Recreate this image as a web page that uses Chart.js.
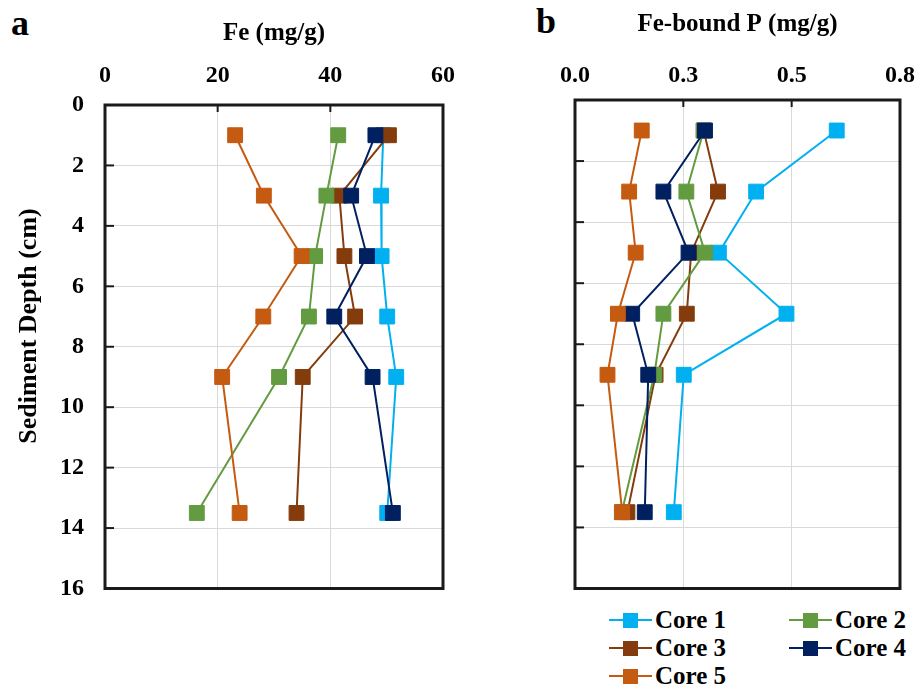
<!DOCTYPE html>
<html>
<head>
<meta charset="utf-8">
<script src="https://cdn.jsdelivr.net/npm/chart.js@4.4.0/dist/chart.umd.min.js"></script>
<style>
  body { margin: 0; background: #fff; width: 919px; height: 690px; position: relative; overflow: hidden;
         font-family: 'Liberation Serif', 'Times New Roman', serif; }
  .panel { position: absolute; font-weight: bold; font-size: 36px; line-height: 36px; }
  #boxA { position: absolute; left: 0; top: 0; }
  #boxB { position: absolute; left: 470px; top: 0; }
  #legend { position: absolute; left: 609px; top: 606px; width: 310px; display: grid;
            grid-template-columns: 180px 130px; grid-auto-rows: 28px; }
  .item { display: flex; align-items: center; font-weight: bold; font-size: 25px; }
  .mark { position: relative; width: 43px; height: 16px; margin-right: 3px; }
  .mark .ln { position: absolute; left: 0; top: 7px; width: 43px; height: 2px; }
  .mark .sq { position: absolute; left: 14px; top: 0.5px; width: 15px; height: 15px; }
</style>
</head>
<body>
<div class="panel" style="left:11px; top:5px;">a</div>
<div class="panel" style="left:536px; top:3px;">b</div>
<canvas id="boxA" width="460" height="600"></canvas>
<canvas id="boxB" width="449" height="600"></canvas>
<div id="legend"></div>
<script>
'use strict';

// sample depths (cm)
var depths = [1, 3, 5, 7, 9, 13.5];
var cores = ['Core 1', 'Core 2', 'Core 3', 'Core 4', 'Core 5'];

// Fe (mg/g), one array per core
var fe1 = [49.4, 49.0, 49.1, 50.1, 51.7, 50.1];
var fe2 = [41.4, 39.3, 37.3, 36.2, 30.9, 16.3];
var fe3 = [50.4, 41.6, 42.5, 44.4, 35.1, 34.0];
var fe4 = [48.0, 43.7, 46.5, 40.7, 47.5, 51.1];
var fe5 = [23.1, 28.2, 34.9, 28.1, 20.8, 23.9];

// Fe-bound P (mg/g)
var fep1 = [0.604, 0.418, 0.332, 0.488, 0.251, 0.228];
var fep2 = [0.297, 0.257, 0.300, 0.204, 0.183, 0.108];
var fep3 = [0.297, 0.330, 0.268, 0.258, 0.186, 0.121];
var fep4 = [0.300, 0.204, 0.262, 0.132, 0.169, 0.161];
var fep5 = [0.154, 0.125, 0.140, 0.099, 0.075, 0.109];

var feTitle = 'Fe (mg/g)';
var fepTitle = 'Fe-bound P (mg/g)';
var depthTitle = 'Sediment Depth (cm)';

var colors = ['#00B0F0', '#629B40', '#843C0C', '#002060', '#C55A11'];
var stacking = [4, 2, 3, 1, 0]; // orange on top, light blue underneath

Chart.defaults.font.family = "'Liberation Serif', 'Times New Roman', serif";
Chart.defaults.color = '#000';

function makeSets(values) {
  return cores.map(function (name, i) {
    return {
      label: name,
      data: values[i].map(function (v, j) { return {x: v, y: depths[j]}; }),
      showLine: true,
      order: stacking[i],
      borderColor: colors[i],
      backgroundColor: colors[i],
      borderWidth: 2,
      pointStyle: 'rect',
      pointRadius: 10.5,
      pointHoverRadius: 10.5,
      pointBorderWidth: 1
    };
  });
}

// lock the axis box so the plot lands where the original one is
function fixSize(size) {
  return function (scale) {
    if (scale.isHorizontal()) scale.height = size;
    else scale.width = size;
    scale.paddingLeft = scale.paddingRight = scale.paddingTop = scale.paddingBottom = 0;
  };
}

// black box round the plot plus Excel-style inside tick marks
var frame = {
  id: 'frame',
  afterDraw: function (chart) {
    var ctx = chart.ctx, a = chart.chartArea, sx = chart.scales.x, sy = chart.scales.y;
    ctx.save();
    ctx.strokeStyle = '#1a1a1a';
    ctx.lineWidth = 2;
    sx.ticks.forEach(function (t) {
      var px = sx.getPixelForValue(t.value);
      if (px > a.left + 3 && px < a.right - 3) {
        ctx.beginPath(); ctx.moveTo(px, a.top); ctx.lineTo(px, a.top + 7); ctx.stroke();
      }
    });
    sy.ticks.forEach(function (t) {
      var py = sy.getPixelForValue(t.value);
      if (py > a.top + 3 && py < a.bottom - 3) {
        ctx.beginPath(); ctx.moveTo(a.left, py); ctx.lineTo(a.left + 9, py); ctx.stroke();
      }
    });
    ctx.lineWidth = 3;
    ctx.strokeRect(a.left, a.top, a.right - a.left, a.bottom - a.top);
    ctx.restore();
  }
};

// depth title sits a bit above the middle in the original, so draw it by hand
var sideTitle = {
  id: 'sideTitle',
  afterDraw: function (chart) {
    var ctx = chart.ctx;
    ctx.save();
    ctx.translate(29, 326);
    ctx.rotate(-Math.PI / 2);
    ctx.font = "bold 26px 'Liberation Serif', 'Times New Roman', serif";
    ctx.fillStyle = '#000';
    ctx.textAlign = 'center';
    ctx.textBaseline = 'middle';
    ctx.fillText(depthTitle, 0, 0);
    ctx.restore();
  }
};

var grid = {color: '#d9d9d9', lineWidth: 1, drawTicks: false};
var tickFont = {size: 24, weight: 'bold'};
var titleFont = {size: 25, weight: 'bold'};

var feChart = new Chart(document.getElementById('boxA'), {
  type: 'scatter',
  data: {datasets: makeSets([fe1, fe2, fe3, fe4, fe5])},
  options: {
    responsive: false,
    animation: false,
    layout: {padding: {left: 0, top: 0, right: 17, bottom: 6.5}},
    plugins: {legend: {display: false}, tooltip: {enabled: false}},
    scales: {
      x: {
        type: 'linear', position: 'top', min: 0, max: 60,
        ticks: {stepSize: 20, padding: 15, font: tickFont},
        grid: grid,
        border: {display: false},
        title: {display: true, text: feTitle, font: titleFont, padding: {top: 19, bottom: 0}},
        afterFit: fixSize(105)
      },
      y: {
        type: 'linear', reverse: true, min: 0, max: 16,
        ticks: {stepSize: 2, padding: 21, font: tickFont},
        grid: grid,
        border: {display: false},
        afterFit: fixSize(105)
      }
    }
  },
  plugins: [frame, sideTitle]
});

var fepChart = new Chart(document.getElementById('boxB'), {
  type: 'scatter',
  data: {datasets: makeSets([fep1, fep2, fep3, fep4, fep5])},
  options: {
    responsive: false,
    animation: false,
    layout: {padding: {left: 0, top: 0, right: 19, bottom: 8.5}},
    plugins: {legend: {display: false}, tooltip: {enabled: false}},
    scales: {
      x: {
        type: 'linear', position: 'top', min: 0, max: 0.75,
        ticks: {stepSize: 0.25, padding: 10, font: tickFont,
                callback: function (v) { return v.toFixed(1); }},
        grid: grid,
        border: {display: false},
        title: {display: true, text: fepTitle, font: titleFont, padding: {top: 10, bottom: 0}},
        afterFit: fixSize(100)
      },
      y: {
        type: 'linear', reverse: true, min: 0, max: 16,
        ticks: {stepSize: 2, display: false},
        grid: grid,
        border: {display: false},
        afterFit: fixSize(105)
      }
    }
  },
  plugins: [frame]
});

// html legend under panel b, built from the chart's own datasets
var legendBox = document.getElementById('legend');
fepChart.data.datasets.forEach(function (ds) {
  var item = document.createElement('div');
  item.className = 'item';
  item.innerHTML = '<span class="mark"><span class="ln" style="background:' + ds.borderColor +
    '"></span><span class="sq" style="background:' + ds.backgroundColor + '"></span></span>' + ds.label;
  legendBox.appendChild(item);
});
</script>
</body>
</html>
